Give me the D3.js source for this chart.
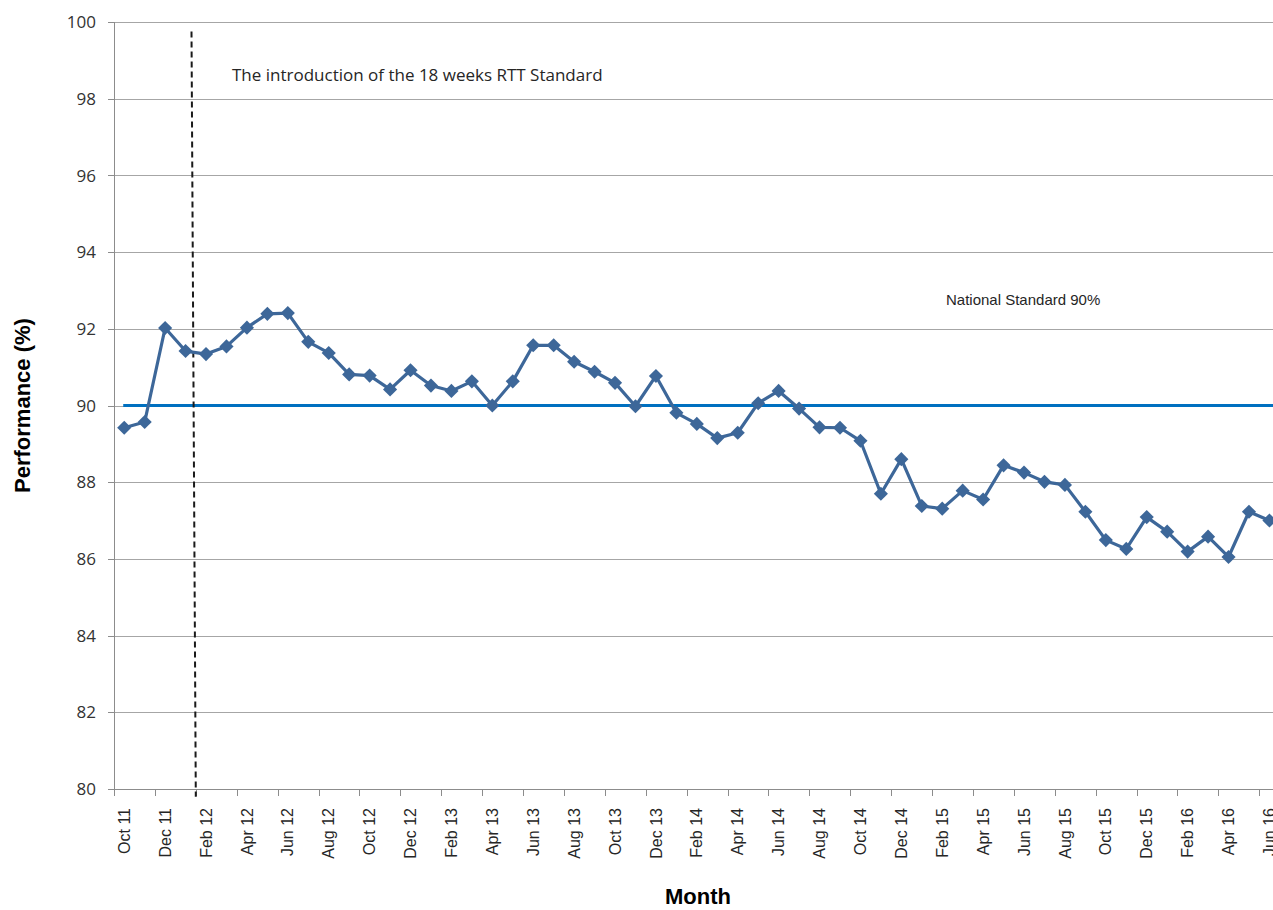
<!DOCTYPE html>
<html>
<head>
<meta charset="utf-8">
<script src="https://d3js.org/d3.v7.min.js"></script>
<style>
body { margin: 0; background: #fff; overflow: hidden; }
</style>
</head>
<body>
<div id="chart"></div>
<script>
var months = ["Oct 11","Nov 11","Dec 11",
    "Jan 12","Feb 12","Mar 12","Apr 12","May 12","Jun 12","Jul 12","Aug 12","Sep 12","Oct 12","Nov 12","Dec 12",
    "Jan 13","Feb 13","Mar 13","Apr 13","May 13","Jun 13","Jul 13","Aug 13","Sep 13","Oct 13","Nov 13","Dec 13",
    "Jan 14","Feb 14","Mar 14","Apr 14","May 14","Jun 14","Jul 14","Aug 14","Sep 14","Oct 14","Nov 14","Dec 14",
    "Jan 15","Feb 15","Mar 15","Apr 15","May 15","Jun 15","Jul 15","Aug 15","Sep 15","Oct 15","Nov 15","Dec 15",
    "Jan 16","Feb 16","Mar 16","Apr 16","May 16","Jun 16"];

var performance = [89.42, 89.57, 92.02, 91.42, 91.34, 91.54, 92.03, 92.39, 92.41, 91.66,
    91.37, 90.81, 90.78, 90.42, 90.92, 90.52, 90.38, 90.63, 90.0, 90.63,
    91.57, 91.57, 91.14, 90.88, 90.59, 89.98, 90.77, 89.81, 89.52, 89.15,
    89.29, 90.06, 90.38, 89.92, 89.43, 89.42, 89.08, 87.7, 88.6, 87.38,
    87.31, 87.78, 87.55, 88.44, 88.25, 88.01, 87.93, 87.23, 86.49, 86.26,
    87.09, 86.71, 86.19, 86.58, 86.05, 87.23, 87.0];

var nationalStandard = 90;
var yTicks = [80, 82, 84, 86, 88, 90, 92, 94, 96, 98, 100];
// dashed marker for the RTT standard, in band units / percent
var introLine = {fromBand: 3.79, toBand: 4.0, top: 99.75, bottom: 79.8};

var width = 1273, height = 910;
var margin = {top: 22, left: 114, bottom: 121};
var bandW = 20.45;

var svg = d3.select("#chart").append("svg")
    .attr("width", width)
    .attr("height", height);

var x = d3.scaleBand()
    .domain(months)
    .range([margin.left, margin.left + months.length * bandW])
    .padding(0);

var y = d3.scaleLinear()
    .domain([80, 100])
    .range([height - margin.bottom, margin.top]);

// band position -> pixel (for the annotation line)
var xb = d3.scaleLinear().domain([0, months.length]).range(x.range());

// gridlines
svg.append("g").selectAll("line").data(yTicks.slice(1))
    .enter().append("line")
    .attr("x1", margin.left)
    .attr("x2", width + 20)
    .attr("y1", function(d) { return Math.round(y(d)) + 0.5; })
    .attr("y2", function(d) { return Math.round(y(d)) + 0.5; })
    .attr("stroke", "#a6a6a6")
    .attr("stroke-width", 1);

// y axis
svg.append("line")
    .attr("x1", margin.left + 0.5).attr("x2", margin.left + 0.5)
    .attr("y1", y(100)).attr("y2", y(80))
    .attr("stroke", "#8c8c8c");

svg.append("g").selectAll("line").data(yTicks)
    .enter().append("line")
    .attr("x1", margin.left - 6)
    .attr("x2", margin.left)
    .attr("y1", function(d) { return Math.round(y(d)) + 0.5; })
    .attr("y2", function(d) { return Math.round(y(d)) + 0.5; })
    .attr("stroke", "#8c8c8c");

svg.append("g").selectAll("text").data(yTicks)
    .enter().append("text")
    .attr("x", margin.left - 18)
    .attr("y", function(d) { return y(d); })
    .attr("dy", "0.36em")
    .attr("text-anchor", "end")
    .style("font-family", "'Open Sans', sans-serif")
    .style("font-size", "17px")
    .style("fill", "#333")
    .text(function(d) { return d; });

// x axis
svg.append("line")
    .attr("x1", margin.left).attr("x2", width + 20)
    .attr("y1", Math.round(y(80)) + 0.5).attr("y2", Math.round(y(80)) + 0.5)
    .attr("stroke", "#8c8c8c");

var tickMonths = months.filter(function(d, i) { return i % 2 == 0; });

svg.append("g").selectAll("line").data(tickMonths)
    .enter().append("line")
    .attr("x1", function(d) { return Math.round(x(d)) + 0.5; })
    .attr("x2", function(d) { return Math.round(x(d)) + 0.5; })
    .attr("y1", y(80))
    .attr("y2", y(80) + 7)
    .attr("stroke", "#8c8c8c");

svg.append("g").selectAll("text").data(tickMonths)
    .enter().append("text")
    .attr("transform", function(d) {
        return "translate(" + (x(d) + x.bandwidth() / 2) + "," + (y(80) + 19) + ") rotate(-90)";
    })
    .attr("dy", "0.35em")
    .attr("text-anchor", "end")
    .style("font-family", "'Liberation Sans', Arial, sans-serif")
    .style("font-size", "16px")
    .style("fill", "#262626")
    .text(function(d) { return d; });

// national standard
svg.append("line")
    .attr("x1", x(months[0]) + x.bandwidth() / 2 - 1)
    .attr("x2", width + 20)
    .attr("y1", y(nationalStandard))
    .attr("y2", y(nationalStandard))
    .attr("stroke", "#0070c0")
    .attr("stroke-width", 3);

// introduction line
svg.append("line")
    .attr("x1", xb(introLine.fromBand))
    .attr("x2", xb(introLine.toBand))
    .attr("y1", y(introLine.top))
    .attr("y2", y(introLine.bottom))
    .attr("stroke", "#1a1a1a")
    .attr("stroke-width", 2)
    .attr("stroke-dasharray", "6,4");

// performance series
var series = months.map(function(m, i) { return {month: m, value: performance[i]}; });

var line = d3.line()
    .x(function(d) { return x(d.month) + x.bandwidth() / 2; })
    .y(function(d) { return y(d.value); });

svg.append("path")
    .datum(series)
    .attr("d", line)
    .attr("fill", "none")
    .attr("stroke", "#3d6799")
    .attr("stroke-width", 3.2)
    .attr("stroke-linejoin", "round");

svg.append("g").selectAll("path").data(series)
    .enter().append("path")
    .attr("d", d3.symbol().type(d3.symbolSquare).size(100))
    .attr("transform", function(d) {
        return "translate(" + (x(d.month) + x.bandwidth() / 2) + "," + y(d.value) + ") rotate(45)";
    })
    .attr("fill", "#3d6799");

// annotations
svg.append("text")
    .attr("x", 232)
    .attr("y", 81)
    .style("font-family", "'Open Sans', sans-serif")
    .style("font-size", "17px")
    .style("fill", "#262626")
    .text("The introduction of the 18 weeks RTT Standard");

svg.append("text")
    .attr("x", 946)
    .attr("y", 305)
    .style("font-family", "'Liberation Sans', Arial, sans-serif")
    .style("font-size", "15px")
    .style("fill", "#262626")
    .text("National Standard 90%");

// axis titles
svg.append("text")
    .attr("transform", "translate(22," + y(90) + ") rotate(-90)")
    .attr("dy", "0.35em")
    .attr("text-anchor", "middle")
    .style("font-family", "'Liberation Sans', Arial, sans-serif")
    .style("font-weight", "bold")
    .style("font-size", "22px")
    .style("fill", "#000")
    .text("Performance (%)");

svg.append("text")
    .attr("x", 698)
    .attr("y", 904)
    .attr("text-anchor", "middle")
    .style("font-family", "'Liberation Sans', Arial, sans-serif")
    .style("font-weight", "bold")
    .style("font-size", "22px")
    .style("fill", "#000")
    .text("Month");
</script>
</body>
</html>
